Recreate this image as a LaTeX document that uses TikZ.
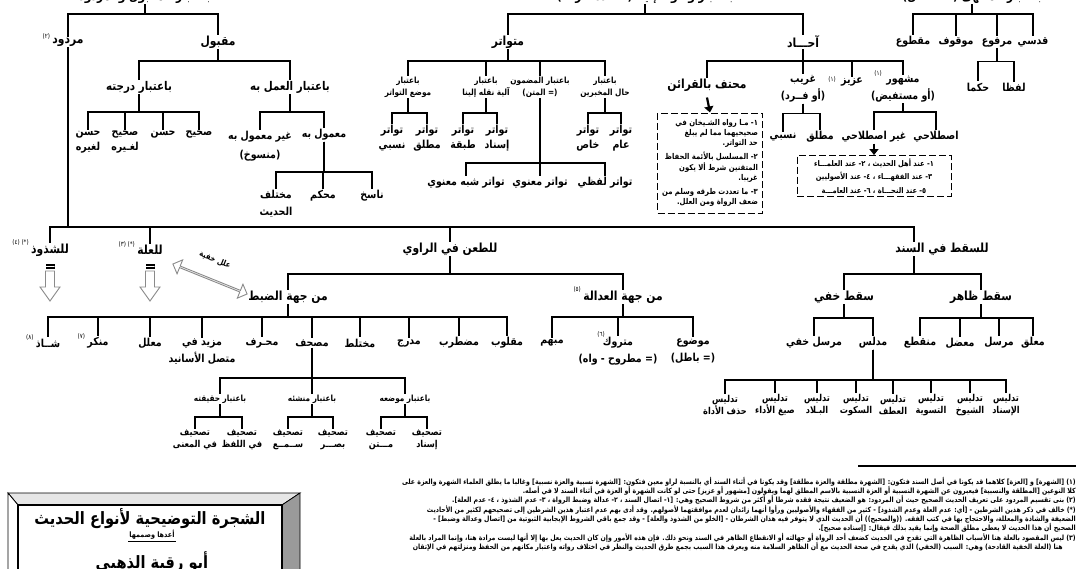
\documentclass[tikz,border=0pt]{standalone}
\usepackage{fontspec}
\usepackage{tikz}
\usetikzlibrary{positioning,arrows.meta,shapes.arrows}
\newfontfamily\arb[Script=Arabic,FakeStretch=0.86]{DejaVu Sans}
\TeXXeTstate=1
\newcommand{\rl}[1]{\beginR #1\endR}
\definecolor{bevelg}{HTML}{9A9A9A}
\definecolor{bevell}{HTML}{E6E6E6}
\definecolor{arrg}{HTML}{8A8A8A}
\tikzset{
  ln/.style={line width=1.6pt},
  big/.style={font=\arb\bfseries\fontsize{12.5}{15}\selectfont,inner sep=1pt,align=center},
  hd/.style={font=\arb\bfseries\fontsize{12}{15}\selectfont,inner sep=1pt,align=center},
  lf/.style={font=\arb\bfseries\fontsize{11}{15}\selectfont,inner sep=1pt,align=center},
  sb/.style={font=\arb\bfseries\fontsize{8.5}{12}\selectfont,inner sep=1pt,align=center},
  tg/.style={font=\arb\bfseries\fontsize{9.5}{12}\selectfont,inner sep=1pt,align=center},
  sp/.style={font=\arb\fontsize{6.5}{7}\selectfont,inner sep=0pt},
  dbox/.style={draw,line width=1pt,dash pattern=on 7pt off 3pt,inner sep=3pt},
  nt/.style={font=\arb\bfseries\fontsize{8}{10.2}\selectfont},
  dar/.style={line width=2.2pt,-{Triangle[length=6pt,width=9pt]}},
  hbar/.style={fill=black,minimum width=9pt,minimum height=5pt,inner sep=0pt,path picture={\draw[white,line width=0.7pt] (path picture bounding box.west) -- (path picture bounding box.east);}}
}
\begin{document}
\begin{tikzpicture}[x=1pt,y=-1pt]
\useasboundingbox (0,0) rectangle (1081,568);
\node[big] (t1) at (145,-3) {\rl{باعتبار المقبول والمردود}};
\node[big] (t2) at (645,-3) {\rl{باعتبار وصوله إلينا (= عدد طرقه)}};
\node[big] (t3) at (972,-3) {\rl{باعتبار المنتهى (= القائل)}};

\node[big] (mrd) at (68,42) {\rl{مردود}};
\node[sp,left=1pt of mrd.north west] (mrdn) {\rl{(٢)}};
\node[big] (mqb) at (218,42) {\rl{مقبول}};
\node[hd] (drj) at (139,87) {\rl{باعتبار درجته}};
\node[hd] (aml) at (290,87) {\rl{باعتبار العمل به}};
\node[lf] (sah) at (199,135) {\rl{صحيح}};
\node[lf] (hsn) at (163,135) {\rl{حسن}};
\node[lf] (sahg) at (125,142) {\rl{صحيح}\\\rl{لغـيره}};
\node[lf] (hsng) at (88,142) {\rl{حسن}\\\rl{لغيره}};
\node[lf] (mam) at (324,135) {\rl{معمول به}};
\node[lf] (gmam) at (260,146) {\rl{غير معمول به}\\[4pt]\rl{(منسوخ)}};
\node[lf] (nsk) at (372,196) {\rl{ناسخ}};
\node[lf] (mhk) at (323,196) {\rl{محكم}};
\node[lf] (mkh) at (276,204) {\rl{مختلف}\\[2pt]\rl{الحديث}};

\node[big] (mtw) at (508,42) {\rl{متواتر}};
\node[big] (ahd) at (803,42) {\rl{آحـــاد}};
\node[sb] (b1) at (408,87) {\rl{باعتبار}\\\rl{موضع التواتر}};
\node[sb] (b2) at (486,87) {\rl{باعتبار}\\\rl{آلية نقله إلينا}};
\node[sb] (b3) at (540,87) {\rl{باعتبار المضمون}\\\rl{(= المتن)}};
\node[sb] (b4) at (605,87) {\rl{باعتبار}\\\rl{حال المخبرين}};
\node[lf] (tns) at (392,138) {\rl{تواتر}\\\rl{نسبي}};
\node[lf] (tmq) at (427,138) {\rl{تواتر}\\\rl{مطلق}};
\node[lf] (ttb) at (463,138) {\rl{تواتر}\\\rl{طبقة}};
\node[lf] (tsn) at (497,138) {\rl{تواتر}\\\rl{إسناد}};
\node[lf] (tkh) at (588,138) {\rl{تواتر}\\\rl{خاص}};
\node[lf] (tam) at (621,138) {\rl{تواتر}\\\rl{عام}};
\node[lf] (tlf) at (605,183) {\rl{تواتر لفظي}};
\node[lf] (tmn) at (540,183) {\rl{تواتر معنوي}};
\node[lf] (tsh) at (466,183) {\rl{تواتر شبه معنوي}};
\node[big] (mht) at (707,85) {\rl{محتف بالقرائن}};
\node[lf] (grb) at (803,89) {\rl{غريب}\\[2pt]\rl{(أو فــرد)}};
\node[lf] (azz) at (852,82) {\rl{عزيز}};
\node[sp] (azzn) at (832,79) {\rl{(١)}};
\node[lf] (msr) at (903,89) {\rl{مشهور}\\[2pt]\rl{(أو مستفيض)}};
\node[sp] (msrn) at (878,73) {\rl{(١)}};
\node[lf] (nsb) at (783,137) {\rl{نسبي}};
\node[lf] (mtl) at (820,137) {\rl{مطلق}};
\node[lf] (gis) at (874,137) {\rl{غير اصطلاحي}};
\node[lf] (ist) at (936,137) {\rl{اصطلاحي}};
\node[dbox,nt,align=right,minimum width=105pt,minimum height=100pt] (bx1) at (710,163) {\rl{١- مـا رواه الشـيخان في}\\\rl{صحيحيهما مما لم يبلغ}\\\rl{حد التواتر.}\\[4pt]\rl{٢- المسلسل بالأئمة الحفاظ}\\\rl{المتقنين شرط ألا يكون}\\\rl{غريبا.}\\[4pt]\rl{٣- ما تعددت طرقه وسلم من}\\\rl{ضعف الرواة ومن العلل.}};
\node[dbox,nt,align=center,minimum width=154pt,minimum height=40pt,font=\arb\bfseries\fontsize{7.8}{13.5}\selectfont] (bx2) at (874,176) {\rl{١- عند أهل الحديث ، ٢- عند العلمـــاء}\\\rl{٣- عند الفقهـــاء ، ٤- عند الأصوليين}\\\rl{٥- عند النحـــاة ، ٦- عند العامـــة}};

\node[lf] (qds) at (1033,42) {\rl{قدسي}};
\node[lf] (mrf) at (997,42) {\rl{مرفوع}};
\node[lf] (mwq) at (956,42) {\rl{موقوف}};
\node[lf] (mqt) at (913,42) {\rl{مقطوع}};
\node[lf] (lfz) at (1014,87) {\rl{لفظا}};
\node[lf] (hkm) at (978,87) {\rl{حكما}};

\node[big] (shd) at (50,250) {\rl{للشذوذ}};
\node[sp,left=1pt of shd.north west] (shdn) {\rl{(*) (٤)}};
\node[big] (ill) at (150,250) {\rl{للعلة}};
\node[sp,left=1pt of ill.north west] (illn) {\rl{(*) (٣)}};
\node[big] (tan) at (450,249) {\rl{للطعن في الراوي}};
\node[big] (sqt) at (942,249) {\rl{للسقط في السند}};
\node[hbar] (shdb) at (50,266) {};
\node[hbar] (illb) at (150,266) {};
\foreach \x in {50,150} {\filldraw[draw=arrg,fill=white,line width=0.9pt] (\x-4.5,271) -- (\x+4.5,271) -- (\x+4.5,287) -- (\x+10,287) -- (\x,301) -- (\x-10,287) -- (\x-4.5,287) -- cycle;}
\node[double arrow,draw=arrg,fill=white,line width=0.9pt,rotate=-22,minimum height=80pt,minimum width=15pt,double arrow head extend=3.5pt,inner sep=0pt] (hid) at (210,279) {};
\node[font=\arb\bfseries\fontsize{8}{9}\selectfont,rotate=-22,inner sep=0pt] (hidl) at (215,260) {\rl{علل خفية}};

\node[big] (dbt) at (288,297) {\rl{من جهة الضبط}};
\node[big] (adl) at (623,297) {\rl{من جهة العدالة}};
\node[sp,left=1pt of adl.north west] (adln) {\rl{(٥)}};
\node[lf] (mql) at (507,343) {\rl{مقلوب}};
\node[lf] (mdt) at (459,343) {\rl{مضطرب}};
\node[lf] (mdr) at (409,343) {\rl{مدرج}};
\node[lf] (mkt) at (360,343) {\rl{مختلط}};
\node[lf] (msh) at (312,343) {\rl{مصحف}};
\node[lf] (mhr) at (262,343) {\rl{محـرف}};
\node[lf] (mzd) at (202,352) {\rl{مزيد في}\\[2pt]\rl{متصل الأسانيد}};
\node[lf] (mll) at (150,343) {\rl{معلل}};
\node[lf] (mnk) at (98,343) {\rl{منكر}};
\node[sp,left=1pt of mnk.north west] (mnkn) {\rl{(٧)}};
\node[lf] (shz) at (48,343) {\rl{شــاذ}};
\node[sp,left=1pt of shz.north west] (shzn) {\rl{(٨)}};
\node[sb] (hqq) at (220,399) {\rl{باعتبار حقيقته}};
\node[sb] (mns) at (312,399) {\rl{باعتبار منشئه}};
\node[sb] (mwd) at (405,399) {\rl{باعتبار موضعه}};
\node[tg] (tm) at (195,440) {\rl{تصحيف}\\\rl{في المعنى}};
\node[tg] (tl) at (242,440) {\rl{تصحيف}\\\rl{في اللفظ}};
\node[tg] (tsm) at (288,440) {\rl{تصحيف}\\\rl{ســمــع}};
\node[tg] (tbs) at (333,440) {\rl{تصحيف}\\\rl{بصـــر}};
\node[tg] (tmt) at (381,440) {\rl{تصحيف}\\\rl{مـــتن}};
\node[tg] (tis) at (427,440) {\rl{تصحيف}\\\rl{إسناد}};
\node[lf] (mwdu) at (693,351) {\rl{موضوع}\\[2pt]\rl{(= باطل)}};
\node[lf] (mtr) at (618,351) {\rl{متروك}\\[2pt]\rl{(= مطروح - واه)}};
\node[sp] (mtrn) at (601,334) {\rl{(٦)}};
\node[lf] (mbh) at (552,343) {\rl{مبهم}};

\node[big] (khf) at (844,297) {\rl{سقط خفي}};
\node[big] (zhr) at (981,297) {\rl{سقط ظاهر}};
\node[lf] (mlq) at (1033,343) {\rl{معلق}};
\node[lf] (mrs) at (999,343) {\rl{مرسل}};
\node[lf] (mdl) at (960,343) {\rl{معضل}};
\node[lf] (mnq) at (920,343) {\rl{منقطع}};
\node[lf] (mdls) at (873,343) {\rl{مدلس}};
\node[lf] (mrkh) at (814,343) {\rl{مرسل خفي}};
\node[tg] (d1) at (1006,405) {\rl{تدليس}\\\rl{الإسناد}};
\node[tg] (d2) at (970,405) {\rl{تدليس}\\\rl{الشيوخ}};
\node[tg] (d3) at (931,405) {\rl{تدليس}\\\rl{التسوية}};
\node[tg] (d4) at (893,405) {\rl{تدليس}\\\rl{العطف}};
\node[tg] (d5) at (856,405) {\rl{تدليس}\\\rl{السكوت}};
\node[tg] (d6) at (817,405) {\rl{تدليس}\\\rl{البـلاد}};
\node[tg] (d7) at (775,405) {\rl{تدليس}\\\rl{صيغ الأداء}};
\node[tg] (d8) at (725,405) {\rl{تدليس}\\\rl{حذف الأداة}};

\draw[ln] (t1.south) -- ++(0,9.7) -| (mrd.north); \draw[ln] (t1.south) -- ++(0,9.7) -| (mqb.north);
\draw[ln] (mqb.south) -- ++(0,11.7) -| (drj.north); \draw[ln] (mqb.south) -- ++(0,11.7) -| (aml.north);
\draw[ln] (drj.south) -- ++(0,18) -| (sah.north); \draw[ln] (drj.south) -- ++(0,18) -| (hsn.north);
\draw[ln] (drj.south) -- ++(0,18) -| (sahg.north); \draw[ln] (drj.south) -- ++(0,18) -| (hsng.north);
\draw[ln] (aml.south) -- ++(0,18) -| (mam.north); \draw[ln] (aml.south) -- ++(0,18) -| (gmam.north);
\draw[ln] (mam.south) -- ++(0,30.4) -| (nsk.north); \draw[ln] (mam.south) -- ++(0,30.4) -| (mhk.north);
\draw[ln] (mam.south) -- ++(0,30.4) -| (mkh.north);
\draw[ln] (t2.south) -- ++(0,9.7) -| (mtw.north); \draw[ln] (t2.south) -- ++(0,9.7) -| (ahd.north);
\draw[ln] (mtw.south) -- ++(0,11.7) -| (b1.north); \draw[ln] (mtw.south) -- ++(0,11.7) -| (b2.north);
\draw[ln] (mtw.south) -- ++(0,11.7) -| (b3.north); \draw[ln] (mtw.south) -- ++(0,11.7) -| (b4.north);
\draw[ln] (b1.south) -- ++(0,14.7) -| (tns.north); \draw[ln] (b1.south) -- ++(0,14.7) -| (tmq.north);
\draw[ln] (b2.south) -- ++(0,14.7) -| (ttb.north); \draw[ln] (b2.south) -- ++(0,14.7) -| (tsn.north);
\draw[ln] (b4.south) -- ++(0,14.7) -| (tkh.north); \draw[ln] (b4.south) -- ++(0,14.7) -| (tam.north);
\draw[ln] (b3.south) -- ++(0,64.7) -| (tlf.north); \draw[ln] (b3.south) -- ++(0,64.7) -| (tmn.north);
\draw[ln] (b3.south) -- ++(0,64.7) -| (tsh.north);
\draw[ln] (ahd.south) -- ++(0,11.7) -| (mht.north); \draw[ln] (ahd.south) -- ++(0,11.7) -| (grb.north);
\draw[ln] (ahd.south) -- ++(0,11.7) -| (azz.north); \draw[ln] (ahd.south) -- ++(0,11.7) -| (msr.north);
\draw[ln] (grb.south) -- ++(0,10) -| (nsb.north); \draw[ln] (grb.south) -- ++(0,10) -| (mtl.north);
\draw[ln] (msr.south) -- ++(0,9) -| (gis.north); \draw[ln] (msr.south) -- ++(0,9) -| (ist.north);
\draw[dar] (mht.south) ++(0,5) -- (bx1.north);
\draw[dar] (gis.south) -- (bx2.north);
\draw[ln] (t3.south) -- ++(0,9.7) -| (qds.north); \draw[ln] (t3.south) -- ++(0,9.7) -| (mrf.north);
\draw[ln] (t3.south) -- ++(0,9.7) -| (mwq.north); \draw[ln] (t3.south) -- ++(0,9.7) -| (mqt.north);
\draw[ln] (mrf.south) -- ++(0,13.4) -| (lfz.north); \draw[ln] (mrf.south) -- ++(0,13.4) -| (hkm.north);

\draw[ln] (mrd.south) -- ++(0,179.7) -| (shd.north); \draw[ln] (mrd.south) -- ++(0,179.7) -| (ill.north);
\draw[ln] (mrd.south) -- ++(0,179.7) -| (tan.north); \draw[ln] (mrd.south) -- ++(0,179.7) -| ([xshift=-28pt]sqt.north);
\draw[ln] (tan.south) -- ++(0,17.7) -| (dbt.north); \draw[ln] (tan.south) -- ++(0,17.7) -| (adl.north);
\draw[ln] ([xshift=-28pt]sqt.south) -- ++(0,17.7) -| (khf.north); \draw[ln] ([xshift=-28pt]sqt.south) -- ++(0,17.7) -| (zhr.north);
\foreach \c in {mql,mdt,mdr,mkt,msh,mhr,mzd,mll,mnk,shz} {\draw[ln] (dbt.south) -- ++(0,12.7) -| (\c.north);}
\foreach \c in {mwdu,mtr,mbh} {\draw[ln] (adl.south) -- ++(0,12.7) -| (\c.north);}
\foreach \c in {hqq,mns,mwd} {\draw[ln] (msh.south) -- ++(0,30.4) -| (\c.north);}
\draw[ln] (hqq.south) -- ++(0,12.7) -| (tm.north); \draw[ln] (hqq.south) -- ++(0,12.7) -| (tl.north);
\draw[ln] (mns.south) -- ++(0,12.7) -| (tsm.north); \draw[ln] (mns.south) -- ++(0,12.7) -| (tbs.north);
\draw[ln] (mwd.south) -- ++(0,12.7) -| (tmt.north); \draw[ln] (mwd.south) -- ++(0,12.7) -| (tis.north);
\foreach \c in {mlq,mrs,mdl,mnq} {\draw[ln] (zhr.south) -- ++(0,13.7) -| (\c.north);}
\draw[ln] (khf.south) -- ++(0,13.7) -| (mdls.north); \draw[ln] (khf.south) -- ++(0,13.7) -| (mrkh.north);
\foreach \c in {d1,d2,d3,d4,d5,d6,d7,d8} {\draw[ln] (mdls.south) -- ++(0,30.4) -| (\c.north);}

\filldraw[fill=bevell,line width=0.8pt] (8,493) -- (300,493) -- (282,505) -- (18,505) -- cycle;
\filldraw[fill=white,line width=0.8pt] (8,493) -- (18,505) -- (18,600) -- (8,600) -- cycle;
\filldraw[fill=bevelg,line width=0.8pt] (300,493) -- (300,600) -- (282,600) -- (282,505) -- cycle;
\draw[line width=1.2pt] (18,505) rectangle (282,600);
\node[font=\arb\bfseries\fontsize{17}{20}\selectfont,inner sep=1pt] (ttl) at (150,519) {\rl{الشجرة التوضيحية لأنواع الحديث}};
\node[font=\arb\bfseries\fontsize{7.5}{8}\selectfont,inner sep=1pt] (prep) at (152,535) {\rl{أعدها وصممها}};
\draw[line width=0.6pt] (prep.south west) -- (prep.south east);
\node[font=\arb\bfseries\fontsize{17}{20}\selectfont,inner sep=1pt] (auth) at (152,562) {\rl{أبو رقية الذهبي}};

\draw[line width=2.6pt] (858,466) -- (1076,466);
\node[font=\arb\bfseries\fontsize{7.2}{9.3}\selectfont,align=right,anchor=north east,inner sep=0pt] (fn) at (1076,477) {%
\rl{(١) [الشهرة] و [العزة] كلاهما قد يكونا في أصل السند فتكون: [الشهرة مطلقة والعزة مطلقة] وقد يكونا في أثناء السند أي بالنسبة لراو معين فتكون: [الشهرة نسبية والعزة نسبية] وغالبا ما يطلق العلماء الشهرة والعزة على}\\
\rl{كلا النوعين [المطلقة والنسبية] فيعبرون عن الشهرة النسبية أو العزة النسبية بالاسم المطلق لهما ويقولون [مشهور أو عزيز] حتى لو كانت الشهرة أو العزة في أثناء السند لا في أصله.}\hspace*{13pt}\\
\rl{(٢) بنى تقسيم المردود على تعريف الحديث الصحيح حيث أن المردود: هو الضعيف نتيجة فقده شرطا أو أكثر من شروط الصحيح وهي: [١- اتصال السند ، ٢- عدالة وضبط الرواة ، ٣- عدم الشذوذ ، ٤- عدم العلة].}\\
\rl{(*) خالف في ذكر هذين الشرطين - [أي: عدم العلة وعدم الشذوذ] - كثير من الفقهاء والأصوليين ورأوا أنهما زائدان لعدم موافقتهما لأصولهم. وقد أدى بهم عدم اعتبار هذين الشرطين إلى تصحيحهم لكثير من الأحاديث}\\
\rl{الضعيفة والشاذة والمعللة، والاحتجاج بها في كتب الفقه. ((والصحيح)) أن الحديث الذي لا يتوفر فيه هذان الشرطان - [الخلو من الشذوذ والعلة] - وقد جمع باقي الشروط الإيجابية الثبوتية من [اتصال وعدالة وضبط] -}\hspace*{13pt}\\
\rl{الصحيح أن هذا الحديث لا يعطى مطلق الصحة وإنما يقيد بذلك فيقال: [إسناده صحيح].}\hspace*{13pt}\\
\rl{(٣) ليس المقصود بالعلة هنا الأسباب الظاهرة التي تقدح في الحديث كضعف أحد الرواة أو جهالته أو الانقطاع الظاهر في السند ونحو ذلك. فإن هذه الأمور وإن كان الحديث يعل بها إلا أنها ليست مرادة هنا، وإنما المراد بالعلة}\\
\rl{هنا (العلة الخفية القادحة) وهي: السبب (الخفي) الذي يقدح في صحة الحديث مع أن الظاهر السلامة منه ويعرف هذا السبب بجمع طرق الحديث والنظر في اختلاف رواته واعتبار مكانهم من الحفظ ومنزلتهم في الإتقان}\hspace*{13pt}};
\end{tikzpicture}
\end{document}
